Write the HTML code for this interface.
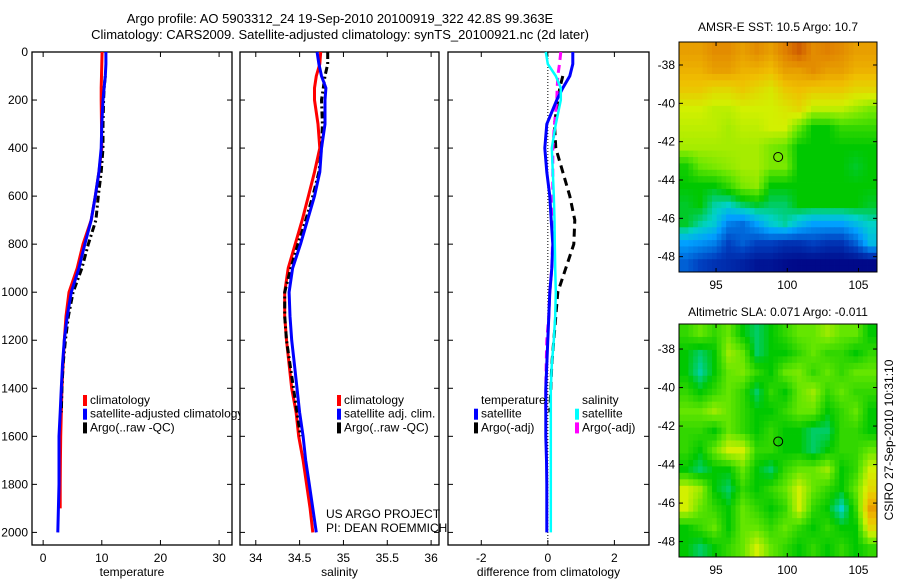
<!DOCTYPE html>
<html><head><meta charset="utf-8"><style>
body{margin:0;background:#fff;}
svg{display:block;font-family:"Liberation Sans",sans-serif;}
</style></head><body>
<svg id="fig" width="900" height="580" viewBox="0 0 900 580">
<defs><clipPath id="clipT"><rect x="32" y="40" width="208" height="520"/></clipPath></defs>
<text x="340" y="23" font-size="13" text-anchor="middle">Argo profile: AO 5903312_24 19-Sep-2010 20100919_322 42.8S 99.363E</text>
<text x="340" y="39" font-size="13" text-anchor="middle">Climatology: CARS2009. Satellite-adjusted climatology: synTS_20100921.nc (2d later)</text>
<text x="778" y="31" font-size="12" text-anchor="middle">AMSR-E SST: 10.5 Argo: 10.7</text>
<text x="778" y="316" font-size="12" text-anchor="middle">Altimetric SLA: 0.071 Argo: -0.011</text>
<text transform="translate(893,440) rotate(-90)" font-size="12" text-anchor="middle">CSIRO 27-Sep-2010 10:31:10</text>
<text x="326" y="518" font-size="12">US ARGO PROJECT</text>
<text x="326" y="532" font-size="12">PI: DEAN ROEMMICH</text>
</svg>
<script>
const depths=[0,50,100,150,200,300,400,500,600,700,800,900,1000,1100,1200,1300,1400,1500,1600,1700,1800,1900,2000];
const tempClim=[10.05,10.0,9.95,9.9,9.9,9.95,10.0,9.5,8.9,8.2,6.8,5.8,4.4,3.9,3.6,3.4,3.2,3.1,3.0,2.95,2.9,2.9,null];
const tempSat=[10.7,10.7,10.6,10.4,10.2,10.0,9.9,9.5,8.9,8.2,7.1,6.1,4.8,4.1,3.6,3.3,3.1,2.9,2.7,2.7,2.7,2.6,2.5];
const tempArgo=[null,null,10.6,10.4,10.3,10.2,10.2,9.9,9.4,9.0,7.7,6.6,5.1,4.3,3.8,3.4,3.2,3.1,null,null,null,null,null];
const salClim=[34.74,34.73,34.69,34.67,34.67,34.71,34.73,34.67,34.6,34.53,34.45,34.37,34.33,34.33,34.35,34.38,34.41,34.46,34.49,34.54,34.58,34.62,34.65];
const salSat=[34.7,34.72,34.75,34.8,34.79,34.79,34.75,34.73,34.67,34.59,34.51,34.42,34.38,34.39,34.41,34.44,34.47,34.5,34.54,34.57,34.61,34.65,34.69];
const salArgo=[34.82,34.82,34.79,34.77,34.75,34.76,34.75,34.72,34.65,34.57,34.48,34.4,34.33,34.33,34.35,34.39,34.43,34.47,34.51,null,null,null,null];
const diffTempSat=[0.75,0.75,0.66,0.45,0.27,-0.03,-0.09,-0.03,0.06,0.1,0.15,0.12,0.06,0.03,0,-0.03,-0.06,-0.06,-0.06,-0.04,-0.03,-0.03,-0.03];
const diffTempArgo=[null,null,0.45,0.36,0.3,0.2,0.24,0.45,0.66,0.81,0.78,0.54,0.3,0.24,0.18,0.12,0.09,0.06,null,null,null,null,null];
const diffSalSat=[-0.06,0,0.24,0.39,0.39,0.24,0.12,0.15,0.18,0.2,0.21,0.22,0.24,0.22,0.18,0.12,0.09,0.09,0.09,0.09,0.09,0.09,0.09];
const diffSalArgo=[0.39,0.35,0.3,0.28,0.27,0.2,0.15,0.15,0.15,0.15,0.14,0.12,0.06,0.03,-0.03,-0.05,-0.06,-0.06,null,null,null,null,null];
const depthTicks=[0,200,400,600,800,1000,1200,1400,1600,1800,2000];
const tempTicks=[0,10,20,30];
const salTicks=[34,34.5,35,35.5,36];
const salTickLabels=["34","34.5","35","35.5","36"];
const diffTicks=[-2,0,2];
const lonTicks=[95,100,105];
const latTicks=[-38,-40,-42,-44,-46,-48];
const sstGrid=[
[.85,.85,.88,.88,.85,.88,.85,.9,.95,.88,.9,.88,.85,.85],
[.82,.82,.85,.85,.82,.82,.8,.85,.85,.88,.85,.85,.82,.82],
[.78,.78,.75,.75,.78,.75,.72,.78,.8,.78,.78,.78,.75,.75],
[.7,.7,.68,.68,.7,.7,.7,.72,.75,.68,.68,.68,.65,.62],
[.68,.68,.68,.66,.68,.68,.7,.7,.6,.5,.5,.55,.55,.55],
[.66,.66,.66,.66,.66,.66,.62,.6,.5,.5,.5,.5,.5,.5],
[.52,.6,.62,.64,.66,.66,.62,.62,.5,.5,.5,.5,.48,.5],
[.5,.5,.5,.55,.62,.64,.5,.5,.5,.5,.5,.5,.5,.5],
[.48,.5,.42,.4,.45,.48,.45,.45,.5,.5,.5,.5,.5,.48],
[.48,.42,.38,.25,.22,.3,.38,.42,.35,.3,.3,.3,.35,.4],
[.3,.28,.25,.15,.2,.15,.15,.12,.12,.15,.12,.12,.2,.35],
[.2,.15,.12,.1,.08,.05,.05,.03,.02,.02,.02,.02,.02,.02]];
const slaGrid=[
[.55,.6,.55,.6,.5,.45,.5,.55,.6,.6,.65,.6,.6,.5],
[.5,.45,.5,.65,.6,.45,.5,.5,.55,.6,.55,.55,.5,.55],
[.5,.42,.5,.6,.62,.55,.5,.6,.62,.55,.6,.55,.6,.6],
[.55,.5,.55,.6,.55,.45,.55,.5,.6,.65,.55,.6,.55,.55],
[.6,.6,.65,.6,.55,.5,.5,.55,.6,.6,.5,.55,.6,.5],
[.55,.55,.5,.6,.55,.5,.55,.5,.5,.45,.45,.55,.55,.5],
[.55,.5,.6,.7,.7,.55,.55,.5,.5,.45,.5,.55,.55,.6],
[.5,.45,.5,.5,.6,.5,.45,.55,.6,.6,.65,.5,.55,.7],
[.7,.65,.5,.45,.55,.5,.55,.6,.7,.6,.55,.5,.6,.75],
[.7,.6,.55,.5,.6,.55,.5,.55,.7,.55,.5,.4,.55,.85],
[.5,.55,.6,.5,.6,.6,.55,.6,.55,.5,.55,.5,.5,.75],
[.5,.45,.5,.55,.6,.7,.6,.55,.5,.55,.5,.55,.5,.55]];
const argoLon=99.363, argoLat=-42.8;

const NS="http://www.w3.org/2000/svg";
const svg=document.getElementById('fig');
function mk(tag,attrs,parent){const e=document.createElementNS(NS,tag);for(const k in attrs)e.setAttribute(k,attrs[k]);(parent||svg).appendChild(e);return e;}
const Y0=52,Y1=545;
const yD=d=>Y0+d*0.2402;
function panel(name,x0,x1,vmin,vmax){
  const g=mk('g',{});
  
  
  return {g,x0,x1,x:v=>x0+(v-vmin)/(vmax-vmin)*(x1-x0)};
}
function frame(p,xt,xl,label,ylabels){
  const r=mk('rect',{x:p.x0,y:Y0,width:p.x1-p.x0,height:Y1-Y0,fill:'none',stroke:'#000','stroke-width':1.3},p.g);
  
  
  xt.forEach((v,i)=>{const X=p.x(v);
    mk('line',{x1:X,x2:X,y1:Y1,y2:Y1-5,stroke:'#000'},p.g);
    mk('line',{x1:X,x2:X,y1:Y0,y2:Y0+5,stroke:'#000'},p.g);
    const t=mk('text',{x:X,y:Y1+17,'font-size':12,'text-anchor':'middle'},p.g);t.textContent=xl[i];
    
    
  });
  depthTicks.forEach(d=>{const Y=yD(d);
    mk('line',{x1:p.x0,x2:p.x0+5,y1:Y,y2:Y,stroke:'#000'},p.g);
    mk('line',{x1:p.x1,x2:p.x1-5,y1:Y,y2:Y,stroke:'#000'},p.g);
    if(ylabels){const t=mk('text',{x:p.x0-4,y:Y+4,'font-size':12,'text-anchor':'end'},p.g);t.textContent=d;
      
      }
  });
  const l=mk('text',{x:(p.x0+p.x1)/2,y:576,'font-size':12,'text-anchor':'middle'},p.g);l.textContent=label;
  
  
}
function series(p,vals,color,w,dash,name){
  let d='',pen=false;
  vals.forEach((v,i)=>{if(v===null){pen=false;return;}d+=(pen?'L':'M')+p.x(v).toFixed(1)+','+yD(depths[i]).toFixed(1);pen=true;});
  const e=mk('path',{d,fill:'none',stroke:color,'stroke-width':w,'stroke-dasharray':dash||'none','stroke-linejoin':'round'},p.g);
  
  
}
function legend(p,x,y,items,clip){
  const g=mk('g',clip?{'clip-path':'url(#'+clip+')'}:{},p.g);
  items.forEach((it,i)=>{
    if(it.c) mk('rect',{x:x,y:y+i*13.7-9,width:4,height:11,fill:it.c},g);
    const t=mk('text',{x:x+7,y:y+i*13.7,'font-size':12},g);t.textContent=it.t;
    
    
  });
}
const pT=panel('temperature-panel',32,232,-1.9,32.2);
frame(pT,tempTicks,tempTicks.map(String),'temperature',true);
series(pT,tempClim,'#f00',3,null,'temp-climatology-line');
series(pT,tempArgo,'#000',3,'7,3,2,3','temp-argo-line');
series(pT,tempSat,'#00f',3,null,'temp-satellite-line');
legend(pT,83,404,[{c:'#f00',t:'climatology'},{c:'#00f',t:'satellite-adjusted climatology'},{c:'#000',t:'Argo(..raw -QC)'}],'clipT');
const pS=panel('salinity-panel',240,439,33.82,36.09);
frame(pS,salTicks,salTickLabels,'salinity',false);
series(pS,salClim,'#f00',3,null,'sal-climatology-line');
series(pS,salArgo,'#000',3,'7,3,2,3','sal-argo-line');
series(pS,salSat,'#00f',3,null,'sal-satellite-line');
legend(pS,337,404,[{c:'#f00',t:'climatology'},{c:'#00f',t:'satellite adj. clim.'},{c:'#000',t:'Argo(..raw -QC)'}]);
const pD=panel('difference-panel',448,649,-3,3.04);
frame(pD,diffTicks,diffTicks.map(String),'difference from climatology',false);
mk('line',{x1:pD.x(0),x2:pD.x(0),y1:Y0,y2:Y1,stroke:'#000','stroke-dasharray':'1,2'},pD.g);
series(pD,diffTempArgo,'#000',3,'8,5','diff-temp-argo-line');
series(pD,diffSalArgo,'#f0f',3,'8,5','diff-sal-argo-line');
series(pD,diffTempSat,'#00f',3,null,'diff-temp-satellite-line');
series(pD,diffSalSat,'#0ff',2.5,null,'diff-sal-satellite-line');
legend(pD,474,404,[{t:'temperature'},{c:'#00f',t:'satellite'},{c:'#000',t:'Argo(-adj)'}]);
legend(pD,575,404,[{t:'salinity'},{c:'#0ff',t:'satellite'},{c:'#f0f',t:'Argo(-adj)'}]);
const stops=[[0,[0,0,128]],[.15,[0,64,192]],[.3,[0,160,255]],[.4,[0,210,200]],[.5,[0,200,0]],[.6,[100,230,0]],[.7,[210,240,0]],[.8,[240,190,0]],[.9,[224,128,0]],[1,[190,60,0]]];
function cmap(v){for(let i=1;i<stops.length;i++){if(v<=stops[i][0]){const a=stops[i-1],b=stops[i],t=(v-a[0])/(b[0]-a[0]);return 'rgb('+a[1].map((c,k)=>Math.round(c+(b[1][k]-c)*t)).join(',')+')';}}return 'rgb(190,60,0)';}
function sample(grid,fr,fc){
  const nr=grid.length,nc=grid[0].length;
  const r=Math.min(Math.max(fr-0.5,0),nr-1),c=Math.min(Math.max(fc-0.5,0),nc-1);
  const r0=Math.floor(r),c0=Math.floor(c),r1=Math.min(r0+1,nr-1),c1=Math.min(c0+1,nc-1),tr=r-r0,tc=c-c0;
  return grid[r0][c0]*(1-tr)*(1-tc)+grid[r0][c1]*(1-tr)*tc+grid[r1][c0]*tr*(1-tc)+grid[r1][c1]*tr*tc;
}
function map(name,grid,x0,x1,y0,y1,lat0,lat1){
  const g=mk('g',{});
  
  
  const lon0=92.4,lon1=106.3;
  const X=v=>x0+(v-lon0)/(lon1-lon0)*(x1-x0), Y=v=>y0+(lat0-v)/(lat0-lat1)*(y1-y0);
  const nr=grid.length,nc=grid[0].length,S=3;
  const cw=(x1-x0)/(nc*S),ch=(y1-y0)/(nr*S);
  for(let r=0;r<nr*S;r++)for(let c=0;c<nc*S;c++){
    const v=sample(grid,(r+0.5)/S,(c+0.5)/S);
    const cell=mk('rect',{x:(x0+c*cw).toFixed(2),y:(y0+r*ch).toFixed(2),width:(cw+0.4).toFixed(2),height:(ch+0.4).toFixed(2),fill:cmap(v)},g);
    
    
  }
  mk('rect',{x:x0,y:y0,width:x1-x0,height:y1-y0,fill:'none',stroke:'#000'},g);
  lonTicks.forEach(v=>{mk('line',{x1:X(v),x2:X(v),y1:y1,y2:y1-4,stroke:'#000'},g);mk('line',{x1:X(v),x2:X(v),y1:y0,y2:y0+4,stroke:'#000'},g);
    const t=mk('text',{x:X(v),y:y1+17,'font-size':12,'text-anchor':'middle'},g);t.textContent=v;
    
    });
  latTicks.forEach(v=>{mk('line',{x1:x0,x2:x0+4,y1:Y(v),y2:Y(v),stroke:'#000'},g);mk('line',{x1:x1,x2:x1-4,y1:Y(v),y2:Y(v),stroke:'#000'},g);
    const t=mk('text',{x:x0-4,y:Y(v)+4,'font-size':12,'text-anchor':'end'},g);t.textContent=v;
    
    });
  const m=mk('circle',{cx:X(argoLon),cy:Y(argoLat),r:4.5,fill:'none',stroke:'#000','stroke-width':1},g);
  
  
}
map('sst-map',sstGrid,679,877,42,272,-36.8,-48.8);
map('sla-map',slaGrid,679,877,324,557,-36.7,-48.8);
</script>
</body></html>
